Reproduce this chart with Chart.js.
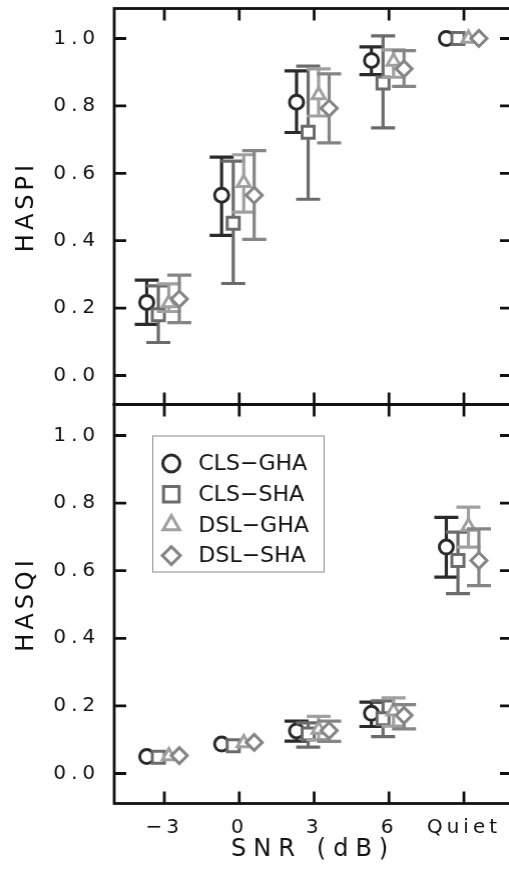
<!DOCTYPE html>
<html><head><meta charset="utf-8">
<script src="https://cdn.jsdelivr.net/npm/chart.js@4.4.1/dist/chart.umd.min.js"></script>
<style>
html,body{margin:0;padding:0;background:#fff;overflow:hidden;width:509px;height:882px;}
#top{position:absolute;left:0px;top:0px;width:512px;height:406px;}
#bot{position:absolute;left:0px;top:400px;width:512px;height:482px;}
</style></head><body>
<div id="top"><canvas id="c1"></canvas></div>
<div id="bot"><canvas id="c2"></canvas></div>
<script>
// ---- data ----
const snrLabels = ['\u22123', '0', '3', '6', 'Quiet'];
const seriesNames = ['CLS\u2212GHA', 'CLS\u2212SHA', 'DSL\u2212GHA', 'DSL\u2212SHA'];
const yTickValues = [0, 0.2, 0.4, 0.6, 0.8, 1.0];

// HASPI means and error limits
const haspiClsGha   = [0.217, 0.535, 0.811, 0.935, 1.0];
const haspiClsGhaLo = [0.152, 0.416, 0.721, 0.893, null];
const haspiClsGhaHi = [0.283, 0.648, 0.904, 0.975, null];
const haspiClsSha   = [0.180, 0.452, 0.722, 0.868, 1.0];
const haspiClsShaLo = [0.098, 0.273, 0.523, 0.735, null];
const haspiClsShaHi = [0.266, 0.636, 0.918, 1.008, null];
const haspiDslGha   = [0.215, 0.572, 0.832, 0.932, 1.0];
const haspiDslGhaLo = [0.190, 0.485, 0.770, 0.885, null];
const haspiDslGhaHi = [0.272, 0.655, 0.910, 0.966, null];
const haspiDslSha   = [0.227, 0.535, 0.793, 0.910, 1.0];
const haspiDslShaLo = [0.157, 0.404, 0.690, 0.858, null];
const haspiDslShaHi = [0.298, 0.667, 0.895, 0.964, null];

// HASQI means and error limits
const hasqiClsGha   = [0.050, 0.087, 0.126, 0.178, 0.670];
const hasqiClsGhaLo = [null, null, 0.096, 0.139, 0.581];
const hasqiClsGhaHi = [null, null, 0.155, 0.211, 0.758];
const hasqiClsSha   = [0.048, 0.082, 0.117, 0.162, 0.630];
const hasqiClsShaLo = [null, null, 0.078, 0.109, 0.532];
const hasqiClsShaHi = [null, null, 0.150, 0.215, 0.714];
const hasqiDslGha   = [0.052, 0.090, 0.130, 0.184, 0.731];
const hasqiDslGhaLo = [null, null, 0.100, 0.140, 0.670];
const hasqiDslGhaHi = [null, null, 0.169, 0.224, 0.788];
const hasqiDslSha   = [0.053, 0.092, 0.127, 0.172, 0.630];
const hasqiDslShaLo = [null, null, 0.095, 0.132, 0.556];
const hasqiDslShaHi = [null, null, 0.155, 0.204, 0.724];

// ---- styles ----
const seriesColors = ['#2a2a2a', '#6b6b6b', '#a0a0a0', '#858585'];
const seriesStyles = ['circle', 'rect', 'triangle', 'rectRot'];
const seriesRadius = [7, 8.5, 7.5, 8];
const legendRadius = [8.5, 11, 9.5, 9];
const xOffsets = [-0.235, -0.08, 0.06, 0.2];
const X_MIN = -0.669, X_MAX = 4.642;
const FONT = 'DejaVu Sans';
const INK = '#111';
const CAP = 12, TICK = 12;

function makeDatasets(means, los, his) {
  return means.map((m, k) => ({
    label: seriesNames[k],
    data: m.map((v, i) => ({x: i + xOffsets[k], y: v})),
    errLo: los[k], errHi: his[k],
    pointStyle: seriesStyles[k], pointRadius: seriesRadius[k], pointBorderWidth: 3,
    borderColor: seriesColors[k], backgroundColor: '#fff',
    pointBackgroundColor: '#fff', pointBorderColor: seriesColors[k],
    showLine: false, order: 4 - k
  }));
}

function patchSpacing(scale, labelSp, titleSp) {
  if (scale.__patched) return;
  scale.__patched = true;
  const dl = scale.drawLabels.bind(scale), dt = scale.drawTitle.bind(scale);
  scale.drawLabels = function (ca) { const c = this.ctx; c.save(); c.letterSpacing = labelSp; dl(ca); c.restore(); };
  scale.drawTitle = function () { const c = this.ctx; c.save(); c.letterSpacing = titleSp; dt(); c.restore(); };
}

const spacingPlugin = {
  id: 'spacing',
  beforeDraw(chart) {
    const s = chart.scales;
    if (s.y) patchSpacing(s.y, '5px', '4px');
    if (s.x) patchSpacing(s.x, '4px', '7px');
  }
};

const errorBarPlugin = {
  id: 'errorBars',
  beforeDatasetDraw(chart, args) {
    const ds = chart.data.datasets[args.index];
    const {ctx, chartArea: a} = chart;
    const x = chart.scales.x, y = chart.scales.y;
    ctx.save();
    ctx.beginPath(); ctx.rect(a.left, a.top, a.right - a.left, a.bottom - a.top); ctx.clip();
    ctx.strokeStyle = ds.borderColor; ctx.lineWidth = 3.2; ctx.lineCap = 'butt';
    ds.data.forEach((p, i) => {
      const lo = ds.errLo[i], hi = ds.errHi[i];
      if (lo == null || hi == null) return;
      const px = x.getPixelForValue(p.x), yl = y.getPixelForValue(lo), yh = y.getPixelForValue(hi);
      ctx.beginPath();
      ctx.moveTo(px, yl); ctx.lineTo(px, yh);
      ctx.moveTo(px - CAP, yl); ctx.lineTo(px + CAP, yl);
      ctx.moveTo(px - CAP, yh); ctx.lineTo(px + CAP, yh);
      ctx.stroke();
    });
    ctx.restore();
  }
};

const framePlugin = {
  id: 'frame',
  afterDraw(chart) {
    const {ctx, chartArea: a} = chart;
    const x = chart.scales.x, y = chart.scales.y;
    ctx.save();
    ctx.strokeStyle = INK; ctx.lineWidth = 2.8;
    ctx.strokeRect(a.left, a.top, a.right - a.left, a.bottom - a.top);
    ctx.beginPath();
    yTickValues.forEach(v => {
      const py = y.getPixelForValue(v);
      ctx.moveTo(a.left, py); ctx.lineTo(a.left + TICK, py);
      ctx.moveTo(a.right, py); ctx.lineTo(a.right - TICK, py);
    });
    snrLabels.forEach((_, i) => {
      const px = x.getPixelForValue(i);
      ctx.moveTo(px, a.top); ctx.lineTo(px, a.top + TICK);
      ctx.moveTo(px, a.bottom); ctx.lineTo(px, a.bottom - TICK);
    });
    ctx.stroke();
    ctx.restore();
  }
};

const legendPlugin = {
  id: 'boxLegend',
  afterDraw(chart) {
    const {ctx, chartArea: a} = chart;
    const left = a.left + 38, top = a.top + 31, w = 171, h = 136;
    ctx.save();
    ctx.strokeStyle = '#8a8a8a'; ctx.lineWidth = 1;
    ctx.strokeRect(left + 0.5, top + 0.5, w, h);
    chart.data.datasets.forEach((ds, k) => {
      const cy = top + 28 + k * 30.7, cx = left + 19;
      ctx.fillStyle = '#fff'; ctx.strokeStyle = seriesColors[k]; ctx.lineWidth = 3;
      Chart.helpers.drawPoint(ctx, {pointStyle: seriesStyles[k], radius: legendRadius[k], borderWidth: 3, rotation: 0}, cx, cy);
      ctx.fillStyle = INK; ctx.font = '22px "' + FONT + '"';
      ctx.textBaseline = 'middle'; ctx.textAlign = 'left';
      ctx.fillText(ds.label, left + 46, cy + 1);
    });
    ctx.restore();
  }
};

function noPad(s) { s.paddingTop = 0; s.paddingBottom = 0; s.paddingLeft = 0; s.paddingRight = 0; }

function yScale(min, max, title) {
  return {
    type: 'linear', min: min, max: max,
    afterBuildTicks: s => { s.ticks = yTickValues.map(v => ({value: v})); },
    afterFit: s => { s.width = 114; noPad(s); },
    grid: {display: false, drawTicks: false}, border: {display: false},
    ticks: {padding: 14, color: INK, font: {family: FONT, size: 20}, callback: v => Number(v).toFixed(1)},
    title: {display: true, text: title, color: INK, font: {family: FONT, size: 24}, padding: {top: 12, bottom: 0}}
  };
}

// move/resize a chart's box so its plot area lands on the wanted page rectangle
function place(chart, div, want) {
  for (let pass = 0; pass < 3; pass++) {
    const a = chart.chartArea, W = chart.width, H = chart.height;
    const padL = a.left, padT = a.top, padR = W - a.right, padB = H - a.bottom;
    const nl = want.left - padL, nt = want.top - padT;
    const nw = want.right + padR - nl, nh = want.bottom + padB - nt;
    div.style.left = nl + 'px'; div.style.top = nt + 'px';
    div.style.width = nw + 'px'; div.style.height = nh + 'px';
    chart.resize();
  }
}

Chart.defaults.devicePixelRatio = 1;

const topChart = new Chart(document.getElementById('c1'), {
  type: 'scatter',
  data: {datasets: makeDatasets(
    [haspiClsGha, haspiClsSha, haspiDslGha, haspiDslSha],
    [haspiClsGhaLo, haspiClsShaLo, haspiDslGhaLo, haspiDslShaLo],
    [haspiClsGhaHi, haspiClsShaHi, haspiDslGhaHi, haspiDslShaHi])},
  options: {
    responsive: true, maintainAspectRatio: false, animation: false, events: [], resizeDelay: 0,
    layout: {padding: 0},
    plugins: {legend: {display: false}, tooltip: {enabled: false}},
    scales: {
      x: {type: 'linear', display: false, min: X_MIN, max: X_MAX, afterFit: noPad},
      y: yScale(-0.086, 1.089, 'HASPI')
    }
  },
  plugins: [spacingPlugin, errorBarPlugin, framePlugin]
});

const botChart = new Chart(document.getElementById('c2'), {
  type: 'scatter',
  data: {datasets: makeDatasets(
    [hasqiClsGha, hasqiClsSha, hasqiDslGha, hasqiDslSha],
    [hasqiClsGhaLo, hasqiClsShaLo, hasqiDslGhaLo, hasqiDslShaLo],
    [hasqiClsGhaHi, hasqiClsShaHi, hasqiDslGhaHi, hasqiDslShaHi])},
  options: {
    responsive: true, maintainAspectRatio: false, animation: false, events: [], resizeDelay: 0,
    layout: {padding: 0},
    plugins: {legend: {display: false}, tooltip: {enabled: false}},
    scales: {
      x: {
        type: 'linear', min: X_MIN, max: X_MAX,
        afterBuildTicks: s => { s.ticks = snrLabels.map((_, i) => ({value: i})); },
        afterFit: s => { s.height = 79; noPad(s); },
        grid: {display: false, drawTicks: false}, border: {display: false},
        ticks: {padding: 12, color: INK, maxRotation: 0, autoSkip: false, font: {family: FONT, size: 20},
                callback: v => snrLabels[Math.round(v)]},
        title: {display: true, text: 'SNR (dB)', color: INK, font: {family: FONT, size: 24}, padding: {top: 0, bottom: 18}}
      },
      y: yScale(-0.0888, 1.0917, 'HASQI')
    }
  },
  plugins: [spacingPlugin, errorBarPlugin, framePlugin, legendPlugin]
});

place(topChart, document.getElementById('top'), {left: 114, top: 8, right: 511, bottom: 404});
place(botChart, document.getElementById('bot'), {left: 114, top: 404, right: 511, bottom: 803});
</script>
</body></html>
